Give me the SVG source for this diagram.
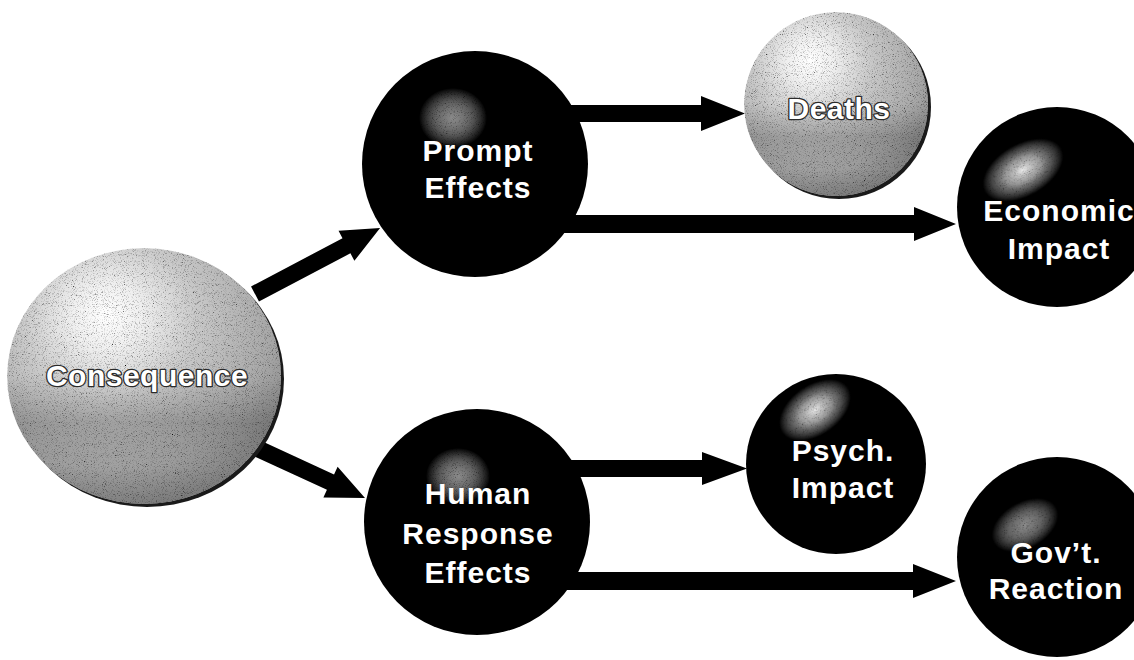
<svg xmlns="http://www.w3.org/2000/svg" width="1134" height="660" viewBox="0 0 1134 660">
<style>
  .lbl { font-family: "Liberation Sans", Arial, sans-serif; font-weight: bold; font-size: 30px; letter-spacing: 1px; fill: #ffffff; text-anchor: middle; }
  .emb { stroke: #2a2a2a; stroke-width: 2.6px; paint-order: stroke; stroke-linejoin: round; letter-spacing: 0.5px; }
  .arrow { fill: #000000; }
  .dark { fill: #000000; }
  .shadow { fill: #1a1a1a; }
</style>
<defs>
  <radialGradient id="gGrey" cx="0.38" cy="0.3" r="0.78" fx="0.36" fy="0.26">
    <stop offset="0" stop-color="#ffffff"/>
    <stop offset="0.16" stop-color="#f0f0f0"/>
    <stop offset="0.42" stop-color="#c8c8c8"/>
    <stop offset="0.75" stop-color="#a8a8a8"/>
    <stop offset="1" stop-color="#808080"/>
  </radialGradient>
  <linearGradient id="gBand" x1="0" y1="0" x2="0" y2="1">
    <stop offset="0" stop-color="#000" stop-opacity="0"/>
    <stop offset="0.5" stop-color="#000" stop-opacity="0"/>
    <stop offset="0.68" stop-color="#000" stop-opacity="0.16"/>
    <stop offset="0.85" stop-color="#000" stop-opacity="0.06"/>
    <stop offset="1" stop-color="#000" stop-opacity="0.12"/>
  </linearGradient>
  <radialGradient id="gHi">
    <stop offset="0" stop-color="#ececec" stop-opacity="1"/>
    <stop offset="0.45" stop-color="#b4b4b4" stop-opacity="0.75"/>
    <stop offset="1" stop-color="#000000" stop-opacity="0"/>
  </radialGradient>
  <radialGradient id="gHiFaint">
    <stop offset="0" stop-color="#8a8a8a" stop-opacity="0.9"/>
    <stop offset="0.5" stop-color="#555555" stop-opacity="0.5"/>
    <stop offset="1" stop-color="#000000" stop-opacity="0"/>
  </radialGradient>
  <filter id="grain" x="0" y="0" width="100%" height="100%">
    <feTurbulence type="fractalNoise" baseFrequency="1.1" numOctaves="2" seed="4" result="n"/>
    <feColorMatrix in="n" type="matrix" values="0.33 0.33 0.33 0 0  0.33 0.33 0.33 0 0  0.33 0.33 0.33 0 0  0 0 0 0 1" result="g"/>
    <feComponentTransfer in="g" result="gc">
      <feFuncR type="linear" slope="3.6" intercept="-0.75"/>
      <feFuncG type="linear" slope="3.6" intercept="-0.75"/>
      <feFuncB type="linear" slope="3.6" intercept="-0.75"/>
    </feComponentTransfer>
    <feBlend in="SourceGraphic" in2="gc" mode="multiply" result="b"/>
    <feComposite in="b" in2="SourceGraphic" operator="in"/>
  </filter>
</defs>
<rect x="0" y="0" width="1134" height="660" fill="#ffffff"/>

<g id="connectors">
  <path class="arrow" transform="translate(255,294) rotate(-27.8)" d="M0,-8.5 H103.4 V-17 L141.4,0 L103.4,17 V8.5 H0 Z"/>
  <path class="arrow" transform="translate(252,446) rotate(24.7)" d="M0,-8.5 H86.4 V-17 L124.4,0 L86.4,17 V8.5 H0 Z"/>
  <path class="arrow" d="M570,105 H701 V96 L745,113.5 L701,131 V122 H570 Z"/>
  <path class="arrow" d="M560,215 H914 V207 L956,224 L914,241 V233 H560 Z"/>
  <path class="arrow" d="M570,460 H702 V452 L747,468.5 L702,485 V477 H570 Z"/>
  <path class="arrow" d="M565,572 H913 V564 L956,581 L913,598 V590 H565 Z"/>
</g>

<g id="consequence">
  <ellipse class="shadow" cx="147" cy="379" rx="137" ry="128"/>
  <ellipse cx="144" cy="376" rx="137" ry="128" fill="url(#gGrey)" filter="url(#grain)"/>
  <ellipse cx="144" cy="376" rx="137" ry="128" fill="url(#gBand)"/>
  <text class="lbl emb" x="147" y="386">Consequence</text>
</g>

<g id="prompt-effects">
  <circle class="dark" cx="475" cy="164" r="113"/>
  <ellipse cx="453" cy="118" rx="34" ry="30" fill="url(#gHiFaint)" filter="url(#grain)"/>
  <text class="lbl" x="478" y="161">Prompt</text>
  <text class="lbl" x="478" y="198">Effects</text>
</g>

<g id="human-response-effects">
  <circle class="dark" cx="477" cy="522" r="113"/>
  <ellipse cx="458" cy="476" rx="32" ry="28" fill="url(#gHiFaint)" filter="url(#grain)"/>
  <text class="lbl" x="478" y="504">Human</text>
  <text class="lbl" x="478" y="544">Response</text>
  <text class="lbl" x="478" y="583">Effects</text>
</g>

<g id="deaths">
  <circle class="shadow" cx="839" cy="107" r="92"/>
  <circle cx="836" cy="104" r="92" fill="url(#gGrey)" filter="url(#grain)"/>
  <circle cx="836" cy="104" r="92" fill="url(#gBand)"/>
  <text class="lbl emb" x="839" y="119">Deaths</text>
</g>

<g id="economic-impact">
  <circle class="dark" cx="1057" cy="207" r="100"/>
  <ellipse cx="1023" cy="170" rx="44" ry="26" transform="rotate(-30 1023 170)" fill="url(#gHi)" filter="url(#grain)"/>
  <text class="lbl" x="1059" y="221">Economic</text>
  <text class="lbl" x="1059" y="259">Impact</text>
</g>

<g id="psych-impact">
  <circle class="dark" cx="836" cy="464" r="90"/>
  <ellipse cx="815" cy="410" rx="40" ry="25" transform="rotate(-35 815 410)" fill="url(#gHi)" filter="url(#grain)"/>
  <text class="lbl" x="843" y="461">Psych.</text>
  <text class="lbl" x="843" y="498">Impact</text>
</g>

<g id="govt-reaction">
  <circle class="dark" cx="1057" cy="557" r="100"/>
  <ellipse cx="1025" cy="525" rx="36" ry="23" transform="rotate(-30 1025 525)" fill="url(#gHiFaint)" filter="url(#grain)"/>
  <text class="lbl" x="1056" y="563">Gov’t.</text>
  <text class="lbl" x="1056" y="599">Reaction</text>
</g>
</svg>
